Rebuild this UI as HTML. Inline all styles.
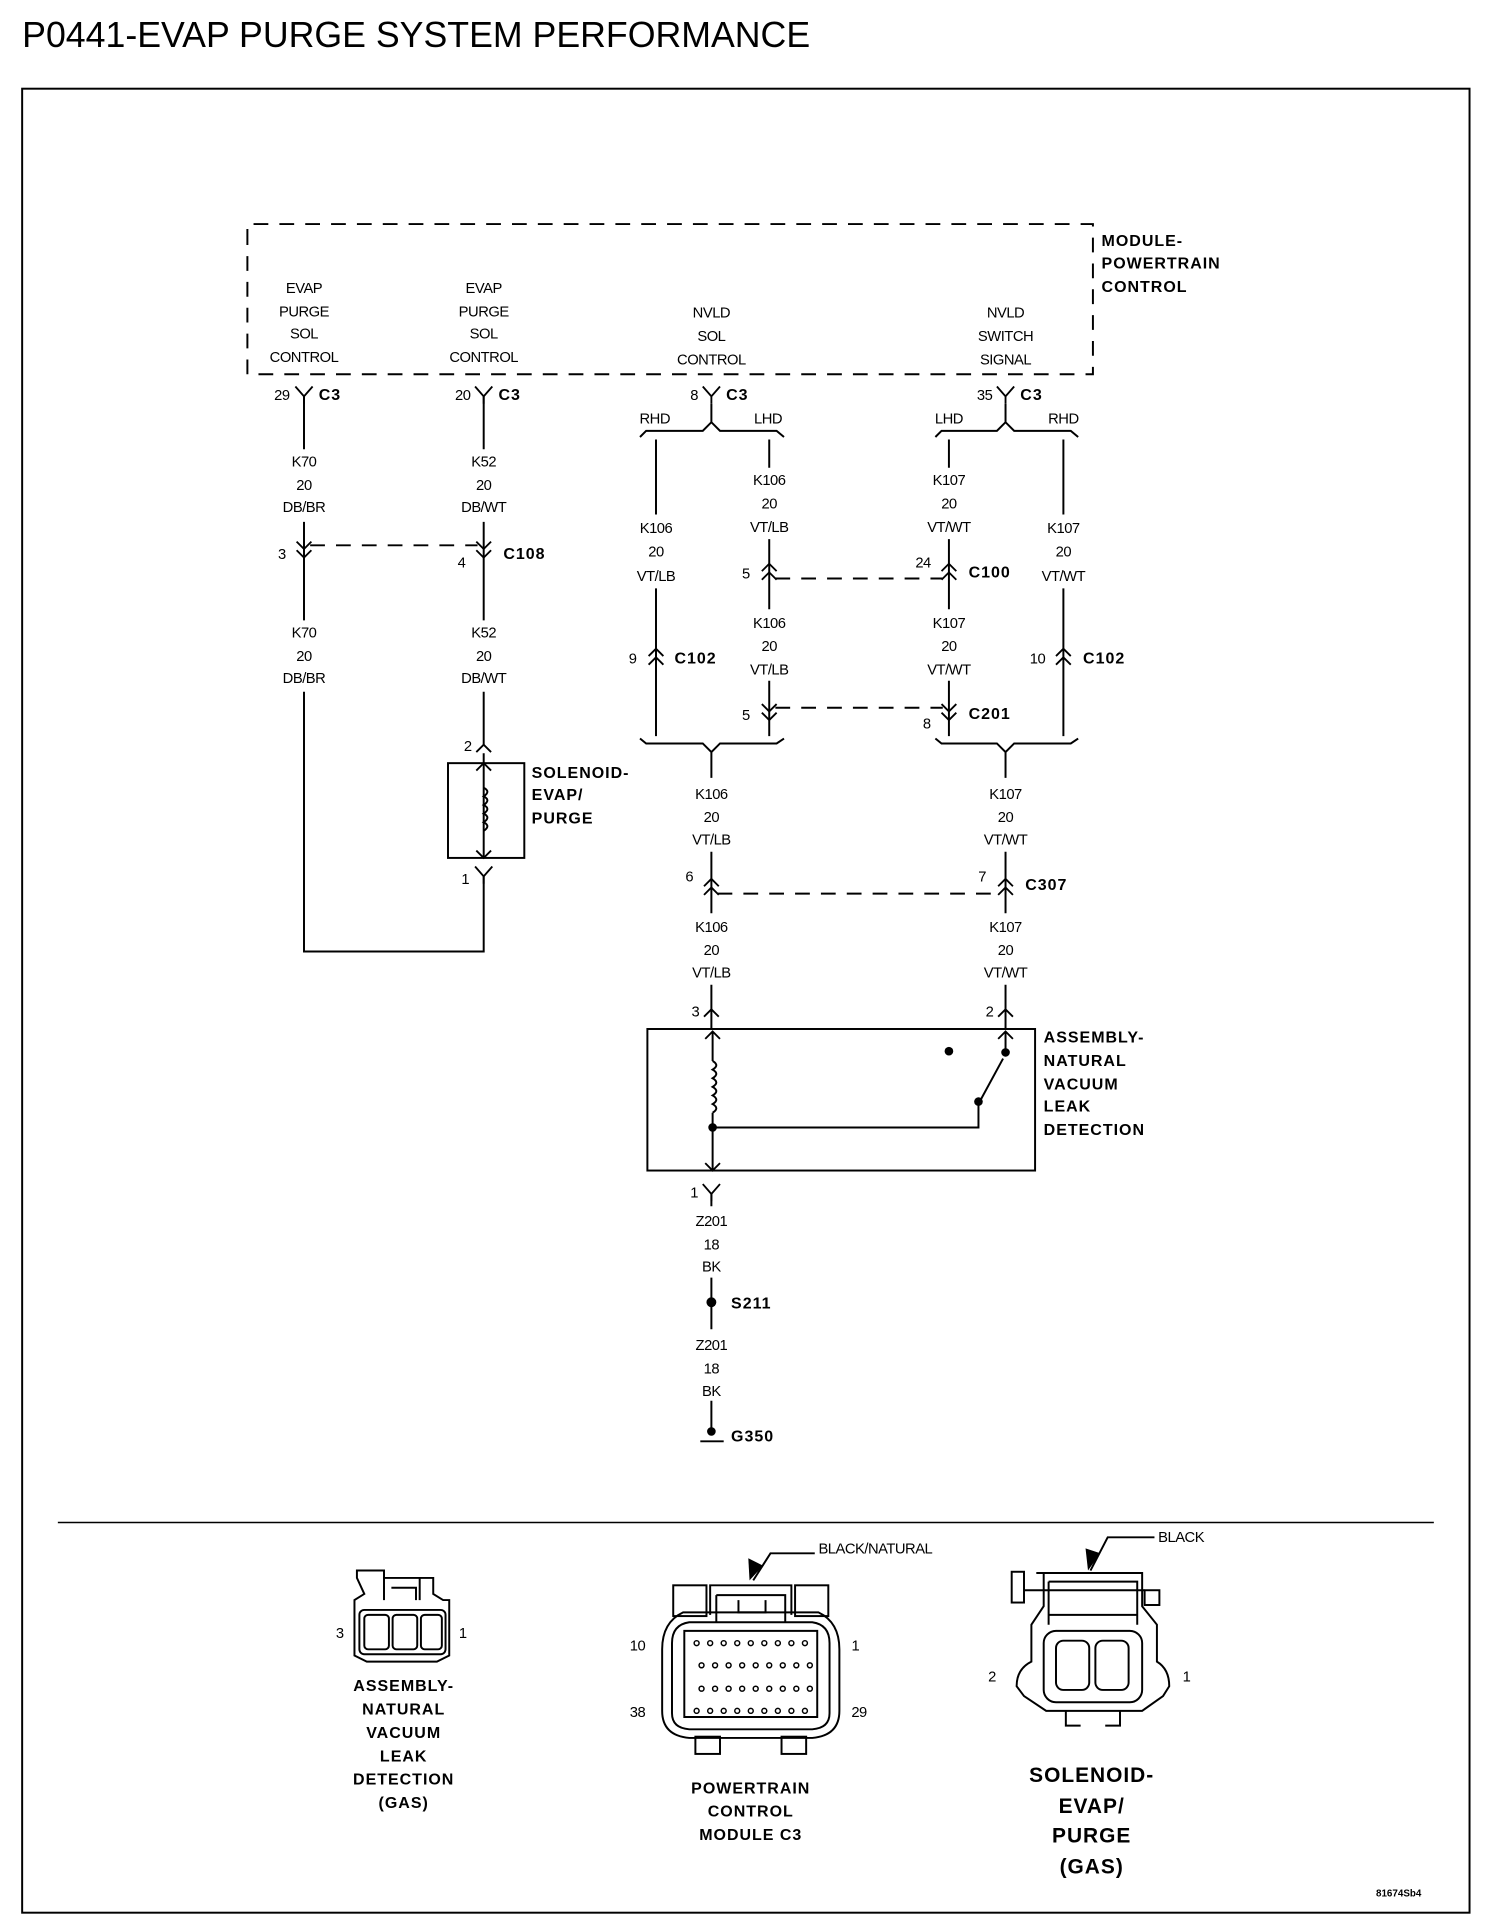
<!DOCTYPE html>
<html><head><meta charset="utf-8"><style>
html,body{margin:0;padding:0;background:#fff;}
svg{display:block}
.t{font-family:"Liberation Sans",sans-serif;font-size:12px;fill:#000;text-anchor:middle;letter-spacing:-0.4px}
.b{font-family:"Liberation Sans",sans-serif;font-size:13px;font-weight:bold;fill:#000;letter-spacing:0.8px}
.bc{font-family:"Liberation Sans",sans-serif;font-size:13px;font-weight:bold;fill:#000;letter-spacing:0.8px;text-anchor:middle}
.w{stroke:#000;stroke-width:1.6;fill:none}
.d{stroke:#000;stroke-width:1.6;fill:none;stroke-dasharray:12,9}
</style></head><body>
<svg width="1504" height="1930" viewBox="0 0 1222 1568" xmlns="http://www.w3.org/2000/svg">
<defs>
<path id="dn" d="M-6,-6 L0,0 L6,-6 M-6,1 L0,7 L6,1" stroke="#000" stroke-width="1.5" fill="none"/>
<path id="up" d="M-6,6 L0,0 L6,6 M-6,-1 L0,-7 L6,-1" stroke="#000" stroke-width="1.5" fill="none"/>
<path id="yy" d="M-7,-8 L0,0 L7,-8 M0,0 L0,6" stroke="#000" stroke-width="1.5" fill="none"/>
<path id="ua" d="M-6,6 L0,0 L6,6" stroke="#000" stroke-width="1.5" fill="none"/>
<path id="da" d="M-6,-6 L0,0 L6,-6" stroke="#000" stroke-width="1.5" fill="none"/>
</defs>
<text x="18" y="38" style="font-family:'Liberation Sans',sans-serif;font-size:29px">P0441-EVAP PURGE SYSTEM PERFORMANCE</text>
<rect x="18" y="72" width="1176" height="1482" class="w" stroke-width="1.8"/>

<!-- module box -->
<path class="d" d="M201,198 L201,182 L888,182 L888,304 L201,304 L201,198"/>
<text class="b" x="895" y="200">MODULE-</text>
<text class="b" x="895" y="218">POWERTRAIN</text>
<text class="b" x="895" y="237">CONTROL</text>
<g class="t">
<text x="247" y="238">EVAP</text><text x="247" y="257">PURGE</text><text x="247" y="275">SOL</text><text x="247" y="294">CONTROL</text>
<text x="393" y="238">EVAP</text><text x="393" y="257">PURGE</text><text x="393" y="275">SOL</text><text x="393" y="294">CONTROL</text>
<text x="578" y="258">NVLD</text><text x="578" y="277">SOL</text><text x="578" y="296">CONTROL</text>
<text x="817" y="258">NVLD</text><text x="817" y="277">SWITCH</text><text x="817" y="296">SIGNAL</text>
</g>

<use href="#yy" x="247" y="322"/><text class="t" x="229" y="325">29</text><text class="b" x="259" y="325">C3</text>
<use href="#yy" x="393" y="322"/><text class="t" x="376" y="325">20</text><text class="b" x="405" y="325">C3</text>
<use href="#yy" x="578" y="322"/><text class="t" x="564" y="325">8</text><text class="b" x="590" y="325">C3</text>
<use href="#yy" x="817" y="322"/><text class="t" x="800" y="325">35</text><text class="b" x="829" y="325">C3</text>

<path class="w" d="M247,322 L247,365 M247,424 L247,504 M247,562 L247,773 L393,773 L393,712"/>
<g class="t"><text x="247" y="379">K70</text><text x="247" y="398">20</text><text x="247" y="416">DB/BR</text>
<text x="247" y="518">K70</text><text x="247" y="537">20</text><text x="247" y="555">DB/BR</text></g>
<use href="#dn" x="247" y="446"/><text class="t" x="229" y="454">3</text>
<path class="w" d="M393,322 L393,365 M393,424 L393,504 M393,562 L393,605"/>
<g class="t"><text x="393" y="379">K52</text><text x="393" y="398">20</text><text x="393" y="416">DB/WT</text>
<text x="393" y="518">K52</text><text x="393" y="537">20</text><text x="393" y="555">DB/WT</text></g>
<use href="#dn" x="393" y="446"/><text class="t" x="375" y="461">4</text><text class="b" x="409" y="454">C108</text>
<path class="d" d="M252,443 L388,443"/>
<use href="#ua" x="393" y="605"/><text class="t" x="380" y="610">2</text>
<rect x="364" y="620" width="62" height="77" class="w" stroke-width="2"/>
<path class="w" d="M393,612 L393,697" stroke-width="1.2"/>
<path class="w" d="M393,640 q6,3 0,7 q6,3 0,7 q6,3 0,7 q6,3 0,7 q6,3 0,7" stroke-width="1.4" fill="#fff"/>
<use href="#ua" x="393" y="620"/><use href="#da" x="393" y="697"/>
<text class="b" x="432" y="632">SOLENOID-</text><text class="b" x="432" y="650">EVAP/</text><text class="b" x="432" y="669">PURGE</text>
<use href="#yy" x="393" y="712"/><text class="t" x="378" y="718">1</text>

<path class="w" d="M578,328 L578,343 M520,355 L525,350 L571,350 L578,343 L585,350 L631,350 L637,355"/>
<text class="t" x="532" y="344">RHD</text><text class="t" x="624" y="344">LHD</text>
<path class="w" d="M533,357 L533,418 M533,478 L533,598 M625,357 L625,380 M625,438 L625,495 M625,553 L625,598"/>
<g class="t"><text x="533" y="433">K106</text><text x="533" y="452">20</text><text x="533" y="472">VT/LB</text>
<text x="625" y="394">K106</text><text x="625" y="413">20</text><text x="625" y="432">VT/LB</text>
<text x="625" y="510">K106</text><text x="625" y="529">20</text><text x="625" y="548">VT/LB</text></g>
<use href="#up" x="533" y="534"/><text class="t" x="514" y="539">9</text><text class="b" x="548" y="539">C102</text>
<use href="#up" x="625" y="465"/><text class="t" x="606" y="470">5</text>
<use href="#dn" x="625" y="578"/><text class="t" x="606" y="585">5</text>
<path class="w" d="M520,600 L525,604 L571,604 L578,611 L585,604 L631,604 L637,600 M578,611 L578,632"/>

<path class="w" d="M817,328 L817,343 M760,355 L765,350 L810,350 L817,343 L824,350 L870,350 L876,355"/>
<text class="t" x="771" y="344">LHD</text><text class="t" x="864" y="344">RHD</text>
<path class="w" d="M771,357 L771,380 M771,438 L771,495 M771,553 L771,598 M864,357 L864,418 M864,478 L864,598"/>
<g class="t"><text x="771" y="394">K107</text><text x="771" y="413">20</text><text x="771" y="432">VT/WT</text>
<text x="771" y="510">K107</text><text x="771" y="529">20</text><text x="771" y="548">VT/WT</text>
<text x="864" y="433">K107</text><text x="864" y="452">20</text><text x="864" y="472">VT/WT</text></g>
<use href="#up" x="771" y="465"/><text class="t" x="750" y="461">24</text><text class="b" x="787" y="469">C100</text>
<use href="#dn" x="771" y="578"/><text class="t" x="753" y="592">8</text><text class="b" x="787" y="584">C201</text>
<use href="#up" x="864" y="534"/><text class="t" x="843" y="539">10</text><text class="b" x="880" y="539">C102</text>
<path class="w" d="M760,600 L765,604 L810,604 L817,611 L824,604 L870,604 L876,600 M817,611 L817,632"/>
<path class="d" d="M630,470 L766,470 M630,575 L766,575"/>

<path class="w" d="M578,692 L578,742 M578,800 L578,836 M817,692 L817,742 M817,800 L817,836"/>
<g class="t"><text x="578" y="649">K106</text><text x="578" y="668">20</text><text x="578" y="686">VT/LB</text>
<text x="578" y="757">K106</text><text x="578" y="776">20</text><text x="578" y="794">VT/LB</text>
<text x="817" y="649">K107</text><text x="817" y="668">20</text><text x="817" y="686">VT/WT</text>
<text x="817" y="757">K107</text><text x="817" y="776">20</text><text x="817" y="794">VT/WT</text></g>
<use href="#up" x="578" y="721"/><text class="t" x="560" y="716">6</text>
<use href="#up" x="817" y="721"/><text class="t" x="798" y="716">7</text><text class="b" x="833" y="723">C307</text>
<path class="d" d="M583,726 L812,726"/>
<use href="#ua" x="578" y="820"/><text class="t" x="565" y="826">3</text>
<use href="#ua" x="817" y="820"/><text class="t" x="804" y="826">2</text>

<rect x="526" y="836" width="315" height="115" class="w" stroke-width="2.2"/>
<path class="w" d="M579,838 L579,862 M579,904 L579,951 M579,916 L795,916 L795,895 M796,895 L815,860 M817,838 L817,855" stroke-width="1.4"/>
<path class="w" d="M579,862 q6,3.5 0,7 q6,3.5 0,7 q6,3.5 0,7 q6,3.5 0,7 q6,3.5 0,7 q6,3.5 0,7" stroke-width="1.4"/>
<use href="#ua" x="579" y="838"/><use href="#ua" x="817" y="838"/><use href="#da" x="579" y="951"/>
<circle cx="579" cy="916" r="3.5"/><circle cx="795" cy="895" r="3.5"/><circle cx="817" cy="855" r="3.5"/><circle cx="771" cy="854" r="3.5"/>
<text class="b" x="848" y="847">ASSEMBLY-</text><text class="b" x="848" y="866">NATURAL</text><text class="b" x="848" y="885">VACUUM</text><text class="b" x="848" y="903">LEAK</text><text class="b" x="848" y="922">DETECTION</text>

<use href="#yy" x="578" y="970"/><text class="t" x="564" y="973">1</text>
<path class="w" d="M578,970 L578,980 M578,1038 L578,1080 M578,1138 L578,1160"/>
<g class="t"><text x="578" y="996">Z201</text><text x="578" y="1015">18</text><text x="578" y="1033">BK</text>
<text x="578" y="1097">Z201</text><text x="578" y="1116">18</text><text x="578" y="1134">BK</text></g>
<circle cx="578" cy="1058" r="4"/><text class="b" x="594" y="1063">S211</text>
<circle cx="578" cy="1163" r="3.5"/><path class="w" d="M569,1171 L588,1171" stroke-width="2"/><text class="b" x="594" y="1171">G350</text>

<line x1="47" y1="1237" x2="1165" y2="1237" stroke="#000" stroke-width="1.2"/>

<g class="w" stroke-width="1.4">
<path d="M290,1282 L290,1276 L312,1276 L312,1282 L352,1282 L352,1295 L360,1300 L365,1300 L365,1345 L355,1350 L298,1350 L288,1345 L288,1300 L296,1295 Z"/>
<path d="M312,1282 L312,1300 M341,1282 L341,1300 M318,1290 L338,1290 L338,1300"/>
<rect x="292" y="1308" width="70" height="36" rx="4"/>
<rect x="296" y="1312" width="20" height="28" rx="3"/><rect x="319" y="1312" width="20" height="28" rx="3"/><rect x="342" y="1312" width="17" height="28" rx="3"/>
</g>
<text class="t" x="276" y="1331">3</text><text class="t" x="376" y="1331">1</text>
<g class="bc"><text x="328" y="1374">ASSEMBLY-</text><text x="328" y="1393">NATURAL</text><text x="328" y="1412">VACUUM</text><text x="328" y="1431">LEAK</text><text x="328" y="1450">DETECTION</text><text x="328" y="1469">(GAS)</text></g>

<g class="w" stroke-width="1.4">
<path d="M555,1310 Q538,1318 538,1340 L538,1390 Q538,1410 560,1412 L660,1412 Q682,1410 682,1390 L682,1340 Q682,1318 665,1310 Z"/>
<path d="M560,1318 L660,1318 Q674,1320 674,1335 L674,1392 Q674,1404 660,1405 L560,1405 Q546,1404 546,1392 L546,1335 Q546,1320 560,1318 Z"/>
<rect x="547" y="1288" width="27" height="25"/><rect x="646" y="1288" width="27" height="25"/>
<path d="M577,1312 L577,1288 L643,1288 L643,1312 M582,1296 L638,1296 L638,1318 M582,1296 L582,1318 M600,1300 L600,1310 L622,1310 L622,1300"/>
<path d="M556,1325 L664,1325 L664,1395 L556,1395 Z"/>
<rect x="565" y="1411" width="20" height="14"/><rect x="635" y="1411" width="20" height="14"/>
</g>
<path d="M612,1284 L626,1262 L662,1262" class="w" stroke-width="1.2"/>
<path d="M609,1284 L608,1266 L620,1272 Z" fill="#000"/>
<text x="665" y="1262" style="font-family:'Liberation Sans',sans-serif;font-size:12px;letter-spacing:-0.4px">BLACK/NATURAL</text>
<g fill="none" stroke="#000" stroke-width="1.2">
<g id="row"><circle cx="566" cy="1335" r="2"/><circle cx="577" cy="1335" r="2"/><circle cx="588" cy="1335" r="2"/><circle cx="599" cy="1335" r="2"/><circle cx="610" cy="1335" r="2"/><circle cx="621" cy="1335" r="2"/><circle cx="632" cy="1335" r="2"/><circle cx="643" cy="1335" r="2"/><circle cx="654" cy="1335" r="2"/></g>
<use href="#row" x="4" y="18"/><use href="#row" x="4" y="37"/><use href="#row" x="0" y="55"/>
</g>
<text class="t" x="518" y="1341">10</text><text class="t" x="695" y="1341">1</text>
<text class="t" x="518" y="1395">38</text><text class="t" x="698" y="1395">29</text>
<g class="bc"><text x="610" y="1457">POWERTRAIN</text><text x="610" y="1476">CONTROL</text><text x="610" y="1495">MODULE C3</text></g>

<g class="w" stroke-width="1.4">
<rect x="822" y="1277" width="10" height="25"/><rect x="930" y="1292" width="12" height="12"/>
<path d="M832,1292 L930,1292 M842,1278 L928,1278 L928,1305 L940,1320 L940,1350 Q950,1356 950,1370 L945,1378 L928,1390 L850,1390 L832,1378 L826,1370 Q826,1356 838,1350 L838,1320 L848,1305 L848,1278"/>
<path d="M852,1285 L924,1285 L924,1320 M852,1285 L852,1320 M852,1312 L924,1312"/>
<rect x="848" y="1325" width="80" height="58" rx="10"/>
<rect x="858" y="1333" width="27" height="40" rx="6"/><rect x="890" y="1333" width="27" height="40" rx="6"/>
<path d="M866,1390 L866,1402 L878,1402 M898,1402 L910,1402 L910,1390"/>
</g>
<path d="M886,1276 L900,1249 L938,1249" class="w" stroke-width="1.2"/>
<path d="M884,1276 L882,1258 L894,1262 Z" fill="#000"/>
<text x="941" y="1253" style="font-family:'Liberation Sans',sans-serif;font-size:12px;letter-spacing:-0.4px">BLACK</text>
<text class="t" x="806" y="1366">2</text><text class="t" x="964" y="1366">1</text>
<g class="bc" style="font-size:17px"><text x="887" y="1448">SOLENOID-</text><text x="887" y="1473">EVAP/</text><text x="887" y="1497">PURGE</text><text x="887" y="1522">(GAS)</text></g>
<text x="1118" y="1541" style="font-family:'Liberation Sans',sans-serif;font-size:8px;font-weight:bold">81674Sb4</text>
</svg>
</body></html>
